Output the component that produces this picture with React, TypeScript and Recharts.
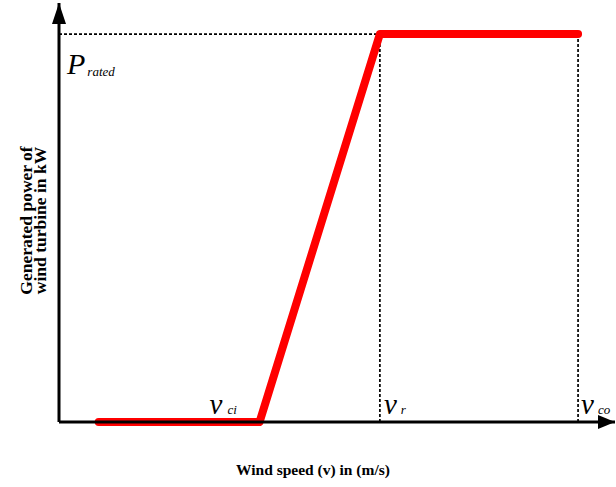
import React from 'react';
import { ComposedChart, Line, XAxis, YAxis, ReferenceLine, ReferenceDot } from 'recharts';

// Wind speed (m/s, schematic units) and generated power (% of rated)
const speeds = [1, 5.05, 8.08, 13.07];
const power = [0, 0, 100, 100];
const ratedPower = 100;
const cutIn = 5.05;
const ratedSpeed = 8.08;
const cutOut = 13.07;
const xMax = 14;
const yMax = 108;

const speedMarkers = [
  { key: 'ci', at: cutIn },
  { key: 'r', at: ratedSpeed },
  { key: 'co', at: cutOut },
];

const data = speeds.map((v, i) => ({ v, p: power[i] }));

const serif = '"Liberation Serif", "Times New Roman", serif';
const markerDx: Record<string, number> = { ci: -50, r: 4, co: 3 };

const XArrow = (props: any) => {
  const { cx, cy } = props;
  return <path d={`M${cx},${cy} L${cx - 17},${cy - 7} L${cx - 17},${cy + 7} Z`} fill="#000" />;
};
const YArrow = (props: any) => {
  const { cx, cy } = props;
  return <path d={`M${cx},${cy} L${cx - 7},${cy + 21} L${cx + 7},${cy + 21} Z`} fill="#000" />;
};

const makeMarkerLabel = (sub: string) => (props: any) => {
  const { cx, cy } = props;
  return (
    <text x={cx + (markerDx[sub] ?? 0)} y={cy - 8} fontFamily={serif} fontStyle="italic" fill="#000">
      <tspan fontSize={29}>v</tspan>
      <tspan fontSize={13} dx={sub === 'ci' ? 5 : 4}>{sub}</tspan>
    </text>
  );
};

const RatedLabel = (props: any) => {
  const { cx, cy } = props;
  return (
    <text x={cx + 8} y={cy + 40} fontFamily={serif} fontStyle="italic" fill="#000">
      <tspan fontSize={30}>P</tspan>
      <tspan fontSize={13} dx={2} dy={2}>rated</tspan>
    </text>
  );
};

const XLabel = (props: any) => {
  const vb = props.viewBox || {};
  return (
    <text x={vb.x + vb.width / 2 - 24} y={vb.y + 53} textAnchor="middle" fontFamily={serif} fontWeight="bold" fontSize={15.5} fill="#000">
      Wind speed (v) in (m/s)
    </text>
  );
};

const YLabel = (props: any) => {
  const vb = props.viewBox || {};
  const cy = vb.y + vb.height / 2 + 8;
  return (
    <g>
      <text transform={`translate(32,${cy}) rotate(-90)`} textAnchor="middle" fontFamily={serif} fontWeight="bold" fontSize={17.5} fill="#000">
        Generated power of
      </text>
      <text transform={`translate(46,${cy}) rotate(-90)`} textAnchor="middle" fontFamily={serif} fontWeight="bold" fontSize={17.5} fill="#000">
        wind turbine in kW
      </text>
    </g>
  );
};

export default function App() {
  return (
    <div style={{ position: 'absolute', left: 0, top: 0, width: 616, height: 487, background: '#fff' }}>
      <ComposedChart width={616} height={487} data={data} margin={{ top: 3, right: 1, bottom: 0, left: 0 }}>
        <XAxis
          type="number"
          dataKey="v"
          domain={[0, xMax]}
          tickCount={5}
          height={65}
          tick={false}
          tickLine={false}
          axisLine={{ stroke: '#000', strokeWidth: 3 }}
          label={<XLabel />}
        />
        <YAxis
          type="number"
          domain={[0, yMax]}
          tickCount={13}
          width={59}
          tick={false}
          tickLine={false}
          axisLine={{ stroke: '#000', strokeWidth: 3 }}
          label={<YLabel />}
        />
        <ReferenceLine segment={[{ x: 0, y: ratedPower }, { x: ratedSpeed, y: ratedPower }]} stroke="#000" strokeWidth={1.7} strokeDasharray="3 2" />
        <ReferenceLine segment={[{ x: ratedSpeed, y: 0 }, { x: ratedSpeed, y: ratedPower }]} stroke="#000" strokeWidth={1.7} strokeDasharray="3 2" />
        <ReferenceLine segment={[{ x: cutOut, y: 0 }, { x: cutOut, y: ratedPower }]} stroke="#000" strokeWidth={1.7} strokeDasharray="3 2" />
        <ReferenceDot x={xMax} y={0} r={0} shape={<XArrow />} ifOverflow="visible" />
        <ReferenceDot x={0} y={yMax} r={0} shape={<YArrow />} ifOverflow="visible" />
        <Line
          type="linear"
          dataKey="p"
          stroke="#ff0000"
          strokeWidth={8}
          strokeLinecap="round"
          strokeLinejoin="round"
          dot={false}
          activeDot={false}
          isAnimationActive={false}
        />
        {speedMarkers.map((m) => (
          <ReferenceDot key={m.key} x={m.at} y={0} r={0} shape={makeMarkerLabel(m.key)} ifOverflow="visible" />
        ))}
        <ReferenceDot x={0} y={ratedPower} r={0} shape={<RatedLabel />} ifOverflow="visible" />
      </ComposedChart>
    </div>
  );
}
